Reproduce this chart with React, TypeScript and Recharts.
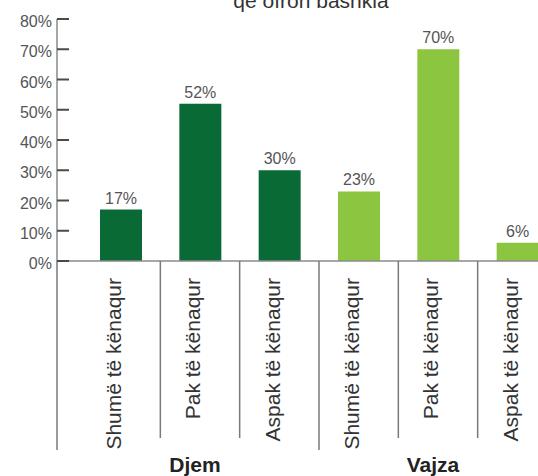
import { BarChart, Bar, XAxis, YAxis, Cell, LabelList } from 'recharts';

const CATEGORIES = [
  'Shumë të kënaqur',
  'Pak të kënaqur',
  'Aspak të kënaqur',
  'Shumë të kënaqur',
  'Pak të kënaqur',
  'Aspak të kënaqur',
];
const GROUPS = ['Djem', 'Vajza'];
const GROUP_OF = [0, 0, 0, 1, 1, 1];
const VALUES = [17, 52, 30, 23, 70, 6];
const Y_TICKS = [0, 10, 20, 30, 40, 50, 60, 70, 80];
const TITLE = 'që ofron bashkia';

const GROUP_COLORS = ['#0a6a36', '#8cc540'];
const FONT = '"Liberation Sans", Arial, Helvetica, sans-serif';
const PAD_LEFT = 24;

const data = CATEGORIES.map((name, i) => ({
  id: `c${i}`,
  name,
  group: GROUP_OF[i],
  value: VALUES[i],
}));

function ValueTick(props: any) {
  const { x, y, payload } = props;
  return (
    <g>
      <line x1={x} x2={x + 12} y1={y} y2={y} stroke="#4a4a4a" strokeWidth={2} />
      <text
        x={x - 5}
        y={y}
        dy="0.5em"
        textAnchor="end"
        fontSize={16}
        fontFamily={FONT}
        fill="#555"
      >
        {payload.value}%
      </text>
    </g>
  );
}

function CategoryTick(props: any) {
  const { x, y, payload, index } = props;
  const half = payload.offset ?? 40;
  const row = data[index];
  const groupStart = index === 0 || GROUP_OF[index - 1] !== row.group;
  const lineX = index === 0 ? x - half - PAD_LEFT : x - half;

  // middle member of the group carries the group name
  const members = GROUP_OF.map((g, i) => (g === row.group ? i : -1)).filter((i) => i >= 0);
  const middle = members[Math.floor(members.length / 2)];

  return (
    <g>
      <line
        x1={lineX}
        x2={lineX}
        y1={y}
        y2={y + (groupStart ? 189 : 177)}
        stroke="#7a7a7a"
        strokeWidth={1.5}
      />
      <text
        transform={`translate(${x - 7},${y + 17}) rotate(-90)`}
        dy="0.35em"
        textAnchor="end"
        fontSize={21}
        fontFamily={FONT}
        fill="#333"
      >
        {row.name}
      </text>
      {index === middle && (
        <text
          x={x - 5}
          y={y + 211}
          textAnchor="middle"
          fontSize={21}
          fontWeight="bold"
          fontFamily={FONT}
          fill="#222"
        >
          {GROUPS[row.group]}
        </text>
      )}
    </g>
  );
}

export default function App() {
  return (
    <div
      style={{
        position: 'absolute',
        left: 0,
        top: 0,
        width: 538,
        height: 476,
        overflow: 'hidden',
        background: '#fff',
      }}
    >
      <div
        style={{
          position: 'absolute',
          left: 0,
          width: 622,
          top: -11,
          textAlign: 'center',
          fontFamily: FONT,
          fontSize: 21,
          color: '#333',
          lineHeight: '24px',
        }}
      >
        {TITLE}
      </div>
      <BarChart
        width={557}
        height={476}
        data={data}
        margin={{ top: 19, right: 0, bottom: 0, left: 0 }}
      >
        <XAxis
          dataKey="id"
          height={215}
          padding={{ left: PAD_LEFT, right: 0 }}
          axisLine={{ stroke: '#8a8a8a', strokeWidth: 1.5 }}
          tickLine={false}
          tickSize={0}
          tickMargin={0}
          interval={0}
          tick={<CategoryTick />}
        />
        <YAxis
          width={57}
          domain={[0, 80]}
          ticks={Y_TICKS}
          interval={0}
          axisLine={{ stroke: '#8a8a8a', strokeWidth: 1.5 }}
          tickLine={false}
          tickSize={0}
          tickMargin={0}
          tick={<ValueTick />}
        />
        <Bar dataKey="value" barSize={42} isAnimationActive={false}>
          {data.map((d) => (
            <Cell key={d.id} fill={GROUP_COLORS[d.group]} />
          ))}
          <LabelList
            dataKey="value"
            position="top"
            offset={6}
            formatter={(v: any) => `${v}%`}
            fontSize={16}
            fontFamily={FONT}
            fill="#555"
          />
        </Bar>
      </BarChart>
    </div>
  );
}
